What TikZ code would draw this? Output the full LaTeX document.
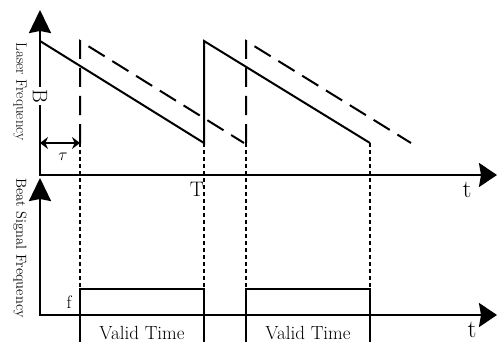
\documentclass[tikz,border=0pt]{standalone}
\usetikzlibrary{arrows.meta}
\begin{document}
\begin{tikzpicture}[x=1pt,y=-1pt,
  bigtip/.tip={Stealth[length=23pt,width=22pt,inset=2pt]},
  htip/.tip={Stealth[length=18pt,width=24pt,inset=2pt]},
  axisline/.style={line width=2.4pt, line join=miter},
  ramp/.style={line width=2pt},
  ramplate/.style={line width=2pt, dash pattern=on 19pt off 9pt},
  guide/.style={line width=2pt, dash pattern=on 4pt off 3pt},
  pulse/.style={line width=2pt},
  lbl/.style={inner sep=0pt, font=\fontsize{#1}{#1}\selectfont},
  lbl/.default=15]
  \useasboundingbox (0,0) rectangle (497,342);

  % sweep instants
  \coordinate (s0) at (40,41);
  \coordinate (s1) at (204,41);
  \coordinate (d0) at (80,41);
  \coordinate (d1) at (246,41);
  \coordinate (e0) at (204,143);
  \coordinate (e1) at (370,143);
  \coordinate (f0) at (80,143);
  \coordinate (f1) at (246,143);

  % axes
  \draw[axisline, {bigtip}-{htip}] (40,10) -- (40,175) -- (497,175);
  \draw[axisline, {bigtip}-{htip}] (40,178) -- (40,315) -- (497,315);

  % transmitted sweep (solid) and delayed echo (dashed)
  \draw[ramp, line join=miter] (s0) -- (e0) -- (s1) -- (e1);
  \draw[ramplate] (f0) -- (d0) -- (244,143);
  \draw[ramplate] (f1) -- (d1) -- (411,143);

  % projection guides
  \foreach \gx in {80,204,246,370}
    \draw[guide] (\gx,143) -- (\gx,289);

  % beat signal windows
  \draw[pulse] (80,342) -- (80,289) -- (204,289) -- (204,342);
  \draw[pulse] (246,342) -- (246,289) -- (370,289) -- (370,342);

  % delay marker
  \coordinate (ta) at (40,143);
  \coordinate (tb) at (80,143);
  \draw[line width=1.8pt, {Stealth[length=8pt,width=12pt]}-{Stealth[length=8pt,width=12pt]}] (ta) -- (tb);

  % labels
  \node[lbl=15, rotate=-90] (ylab1) at (20,92) {Laser Frequency};
  \node[lbl=14.5, rotate=-90] (ylab2) at (20,248) {Beat Signal Frequency};
  \node[lbl=21, rotate=-90, fill=white, inner sep=2pt] (bl) at (40,96) {B};
  \node[lbl=17] (tau) at (63,157) {$\tau$};
  \node[lbl=21] (tl) at (197,189) {T};
  \node[lbl=25] (t1) at (467,190) {t};
  \node[lbl=25] (t2) at (472,330) {t};
  \node[lbl=18] (fl) at (69,302) {f};
  \node[lbl=19] (v1) at (142,333) {Valid Time};
  \node[lbl=19] (v2) at (308,333) {Valid Time};
\end{tikzpicture}
\end{document}
